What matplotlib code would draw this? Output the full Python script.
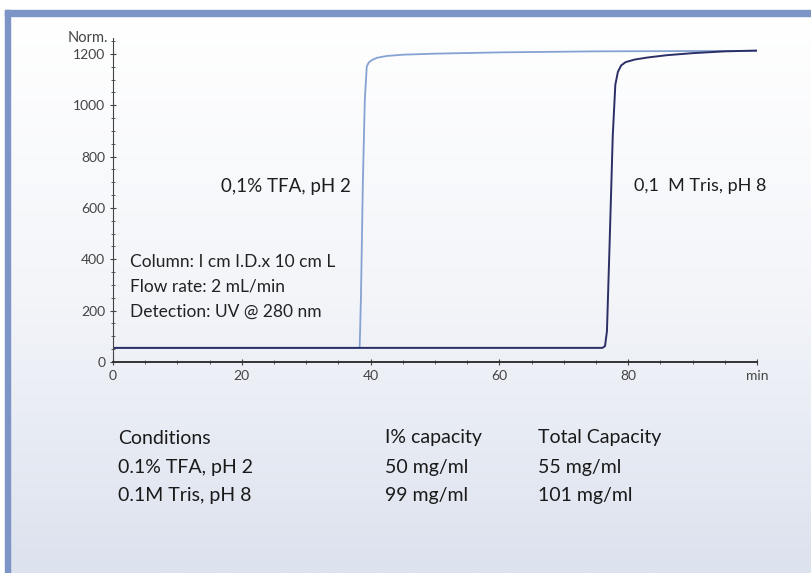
import numpy as np
import matplotlib
matplotlib.use("Agg")
import matplotlib.pyplot as plt
from matplotlib.patches import Rectangle

plt.rcParams["font.family"] = ["Lato", "DejaVu Sans"]

# breakthrough curves (min, Norm)
tfa_t = [0, 38.3, 38.5, 38.8, 39.1, 39.4, 39.7, 40.2, 41.0, 42.5, 45.0, 50.0, 60.0, 75.0, 100.0]
tfa_y = [55, 55, 250, 700, 1020, 1150, 1166, 1176, 1185, 1192, 1197, 1201, 1206, 1210, 1212]
tris_t = [0, 76.0, 76.4, 76.7, 77.1, 77.6, 78.0, 78.4, 78.9, 79.6, 81.0, 83.0, 86.0, 90.0, 95.0, 100.0]
tris_y = [55, 55, 62, 120, 450, 880, 1080, 1130, 1155, 1168, 1178, 1186, 1195, 1203, 1210, 1213]

y_ticks = [0, 200, 400, 600, 800, 1000, 1200]
x_ticks = [0, 20, 40, 60, 80]

notes = ["Column: I cm I.D.x 10 cm L", "Flow rate: 2 mL/min", "Detection: UV @ 280 nm"]

table_head = ["Conditions", "I% capacity", "Total Capacity"]
table_rows = [["0.1% TFA, pH 2", "50 mg/ml", "55 mg/ml"],
              ["0.1M Tris, pH 8", "99 mg/ml", "101 mg/ml"]]

fig = plt.figure(figsize=(8.11, 5.73), dpi=100)

# gradient background panel with blue frame on top and left
bg = fig.add_axes([0, 0, 1, 1])
bg.set_xlim(0, 811)
bg.set_ylim(573, 0)
bg.axis("off")
grad = np.linspace(0, 1, 256).reshape(-1, 1)
bg.imshow(grad, extent=[10, 811, 573, 16], aspect="auto",
          cmap=matplotlib.colors.LinearSegmentedColormap.from_list(
              "bgc", ["#ffffff", "#f3f5f9", "#dce2ee"]), zorder=0)
bg.add_patch(Rectangle((5, 10), 806, 6, color="#7d95c6", zorder=1))
bg.add_patch(Rectangle((5, 10), 5, 563, color="#7d95c6", zorder=1))

ax = fig.add_axes([113 / 811, 1 - 362 / 573, (757 - 113) / 811, (362 - 38) / 573])
ax.patch.set_alpha(0)
ax.plot(tfa_t, tfa_y, color="#86a2d2", lw=1.3)
ax.plot(tris_t, tris_y, color="#2b2f66", lw=1.4)
ax.set_xlim(0, 100)
ax.set_ylim(0, 1262)
for s in ["top", "right"]:
    ax.spines[s].set_visible(False)
ax.spines["left"].set_color("#444444")
ax.spines["bottom"].set_color("#333333")
ax.spines["bottom"].set_linewidth(1.4)
ax.set_xticks(x_ticks + [100])
ax.set_xticklabels([str(v) for v in x_ticks] + ["min"])
ax.set_xticks(np.arange(0, 101, 5), minor=True)
ax.set_yticks(y_ticks)
ax.set_yticks(np.arange(0, 1251, 50), minor=True)
ax.tick_params(axis="both", which="major", direction="inout", length=5,
               labelsize=10, colors="#444444", labelcolor="#444444", pad=3)
ax.tick_params(axis="both", which="minor", direction="inout", length=3, colors="#444444")
ax.text(-0.8, 1262, "Norm.", ha="right", va="center", fontsize=10.5, color="#444444")

# curve labels
ax.text(26.9, 685, "0,1% TFA, pH 2", ha="center", va="center", fontsize=13.5, color="#1e1e1e")
ax.text(91.2, 685, "0,1  M Tris, pH 8", ha="center", va="center", fontsize=13, color="#1e1e1e")
for i, line in enumerate(notes):
    ax.text(2.6, 390 - i * 97, line, ha="left", va="center", fontsize=12.5, color="#222222")

col_x = [118, 385, 538]
row_y = [438, 467, 496]
for j, h in enumerate(table_head):
    bg.text(col_x[j], row_y[0], h, ha="left", va="center", fontsize=14, color="#1a1a1a")
for i, row in enumerate(table_rows):
    for j, cell in enumerate(row):
        bg.text(col_x[j], row_y[i + 1], cell, ha="left", va="center", fontsize=14, color="#1a1a1a")

fig.savefig("out.png", dpi=100)
